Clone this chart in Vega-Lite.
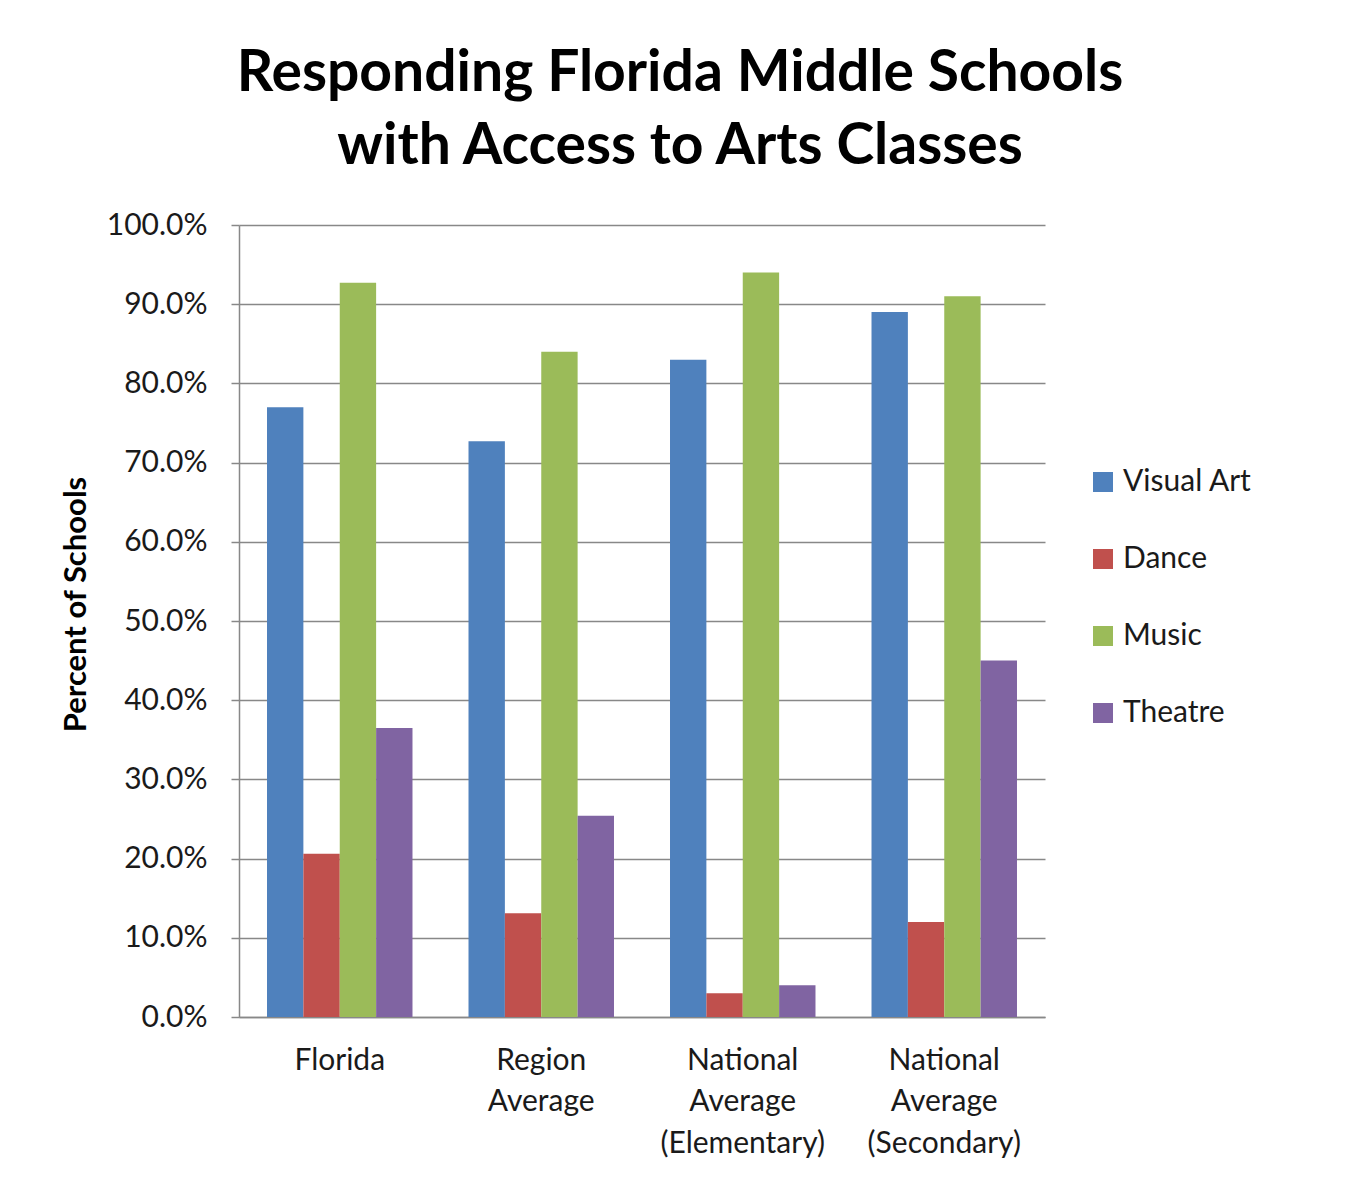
{
  "$schema": "https://vega.github.io/schema/vega-lite/v6.json",
  "autosize": "none",
  "width": 806,
  "height": 792,
  "padding": {"left": 239, "top": 225, "right": 308, "bottom": 165},
  "background": "white",
  "title": {
    "text": ["Responding Florida Middle Schools", "with Access to Arts Classes"],
    "font": "Lato",
    "fontSize": 57,
    "fontWeight": "bold",
    "color": "black",
    "lineHeight": 73,
    "anchor": "middle",
    "dx": 38,
    "offset": 34
  },
  "data": {
    "values": [
      {"category": "Florida", "art": "Visual Art", "value": 77.0},
      {"category": "Florida", "art": "Dance", "value": 20.6},
      {"category": "Florida", "art": "Music", "value": 92.7},
      {"category": "Florida", "art": "Theatre", "value": 36.5},
      {"category": "Region Average", "art": "Visual Art", "value": 72.7},
      {"category": "Region Average", "art": "Dance", "value": 13.1},
      {"category": "Region Average", "art": "Music", "value": 84.0},
      {"category": "Region Average", "art": "Theatre", "value": 25.4},
      {"category": "National Average (Elementary)", "art": "Visual Art", "value": 83.0},
      {"category": "National Average (Elementary)", "art": "Dance", "value": 3.0},
      {"category": "National Average (Elementary)", "art": "Music", "value": 94.0},
      {"category": "National Average (Elementary)", "art": "Theatre", "value": 4.0},
      {"category": "National Average (Secondary)", "art": "Visual Art", "value": 89.0},
      {"category": "National Average (Secondary)", "art": "Dance", "value": 12.0},
      {"category": "National Average (Secondary)", "art": "Music", "value": 91.0},
      {"category": "National Average (Secondary)", "art": "Theatre", "value": 45.0}
    ]
  },
  "mark": {"type": "bar"},
  "encoding": {
    "x": {
      "field": "category",
      "type": "nominal",
      "sort": null,
      "scale": {"paddingInner": 0.278, "paddingOuter": 0.139},
      "axis": {
        "title": null,
        "labelAngle": 0,
        "labelExpr": "split(datum.label, ' ')",
        "labelFont": "Lato",
        "labelFontSize": 30,
        "labelColor": "#1a1a1a",
        "labelLineHeight": 41.5,
        "labelPadding": 28,
        "labelLimit": 0,
        "ticks": false,
        "domainColor": "#888888",
        "domainWidth": 1.5
      }
    },
    "xOffset": {
      "field": "art",
      "type": "nominal",
      "sort": ["Visual Art", "Dance", "Music", "Theatre"],
      "scale": {"paddingInner": 0, "paddingOuter": 0}
    },
    "y": {
      "field": "value",
      "type": "quantitative",
      "scale": {"domain": [0, 100], "nice": false},
      "axis": {
        "title": "Percent of Schools",
        "titleFont": "Lato",
        "titleFontSize": 31,
        "titleFontWeight": "bold",
        "titleColor": "black",
        "titlePadding": 14,
        "titleY": 379,
        "values": [0, 10, 20, 30, 40, 50, 60, 70, 80, 90, 100],
        "labelExpr": "format(datum.value, '.1f') + '%'",
        "labelFont": "Lato",
        "labelFontSize": 30,
        "labelColor": "#1a1a1a",
        "labelPadding": 24,
        "tickSize": 8,
        "tickColor": "#888888",
        "tickWidth": 1.5,
        "domainColor": "#888888",
        "domainWidth": 1.5,
        "grid": true,
        "gridColor": "#888888",
        "gridWidth": 1.5
      }
    },
    "color": {
      "field": "art",
      "type": "nominal",
      "sort": ["Visual Art", "Dance", "Music", "Theatre"],
      "scale": {
        "domain": ["Visual Art", "Dance", "Music", "Theatre"],
        "range": ["#4F81BD", "#C0504D", "#9BBB59", "#8064A2"]
      },
      "legend": {
        "title": null,
        "orient": "none",
        "legendX": 849,
        "legendY": 242,
        "symbolType": "square",
        "symbolSize": 400,
        "symbolStrokeWidth": 0,
        "labelFont": "Lato",
        "labelFontSize": 30,
        "labelColor": "#1a1a1a",
        "labelOffset": 5,
        "rowPadding": 47,
        "labelLimit": 0
      }
    }
  },
  "config": {
    "view": {"stroke": null},
    "font": "Lato"
  }
}
